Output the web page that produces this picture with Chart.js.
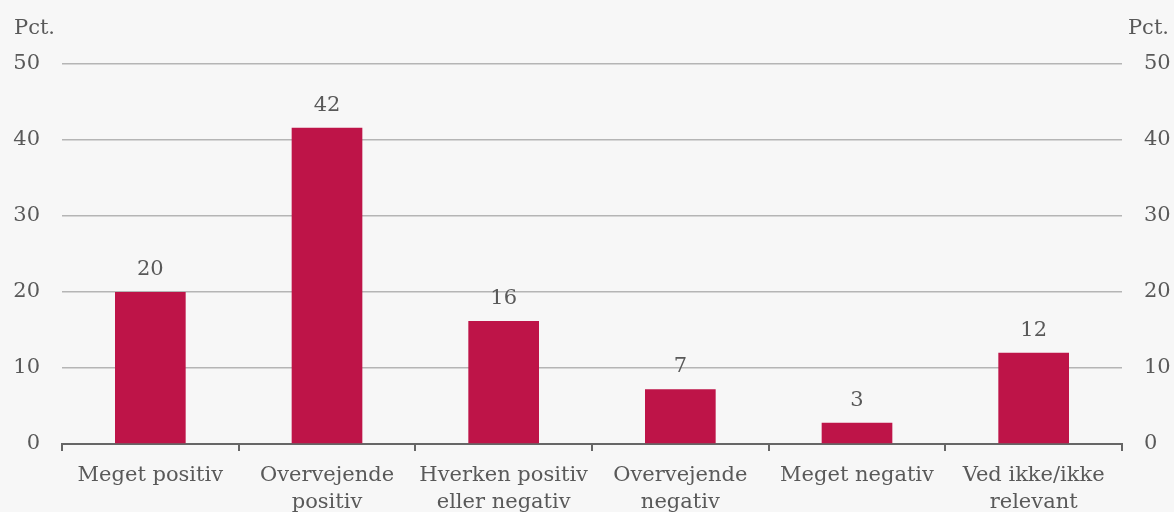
<!DOCTYPE html>
<html>
<head>
<meta charset="utf-8">
<script src="https://cdn.jsdelivr.net/npm/chart.js@4.4.1/dist/chart.umd.min.js"></script>
<style>
html,body{margin:0;padding:0;background:#f7f7f7;overflow:hidden;}
#wrap{width:1174px;height:512px;position:relative;}
</style>
</head>
<body>
<div id="wrap"><canvas id="c" width="1174" height="512"></canvas></div>
<script>
const categories = [
  ["Meget positiv"],
  ["Overvejende", "positiv"],
  ["Hverken positiv", "eller negativ"],
  ["Overvejende", "negativ"],
  ["Meget negativ"],
  ["Ved ikke/ikke", "relevant"]
];
const values = [20, 41.6, 16.2, 7.2, 2.8, 12];
const valueLabels = ["20", "42", "16", "7", "3", "12"];
const yTicks = [0, 10, 20, 30, 40, 50];
const unitLabel = "Pct.";

const FONT = "'DejaVu Serif', serif";
const TXT = "#595959";
const FS = 21;

const overlay = {
  id: 'overlay',
  afterDatasetsDraw(chart) {
    const ctx = chart.ctx;
    ctx.save();
    ctx.font = FS + "px " + FONT;
    ctx.fillStyle = TXT;
    ctx.textAlign = 'center';
    ctx.textBaseline = 'bottom';
    chart.getDatasetMeta(0).data.forEach((bar, i) => {
      ctx.fillText(valueLabels[i], bar.x, bar.y - 12);
    });
    ctx.textBaseline = 'middle';
    ctx.textAlign = 'left';
    ctx.fillText(unitLabel, 14, 29);
    ctx.textAlign = 'right';
    ctx.fillText(unitLabel, 1169, 29);
    ctx.restore();
  }
};

new Chart(document.getElementById('c'), {
  type: 'bar',
  data: {
    labels: categories,
    datasets: [{
      data: values,
      backgroundColor: '#BE1448',
      barPercentage: 0.4,
      categoryPercentage: 1.0
    }]
  },
  options: {
    responsive: false,
    animation: false,
    events: [],
    layout: { padding: { top: 64, left: 0, right: 0, bottom: 0 } },
    plugins: { legend: { display: false }, tooltip: { enabled: false } },
    scales: {
      x: {
        offset: true,
        grid: { offset: true, drawOnChartArea: false, drawTicks: true, tickLength: 7, color: '#666', lineWidth: 2 },
        border: { display: true, color: '#666', width: 2 },
        ticks: { color: TXT, font: { family: FONT, size: FS, lineHeight: 1.3 }, padding: 11, maxRotation: 0, autoSkip: false },
        afterFit(s) { s.height = 68; }
      },
      y: {
        position: 'left',
        min: 0, max: 50,
        afterBuildTicks(s) { s.ticks = yTicks.map(v => ({ value: v })); },
        grid: { color: '#b5b5b5', lineWidth: 1.5, drawTicks: false },
        border: { display: false },
        ticks: { color: TXT, font: { family: FONT, size: FS }, padding: 22 },
        afterFit(s) { s.width = 62; }
      },
      y2: {
        position: 'right',
        min: 0, max: 50,
        afterBuildTicks(s) { s.ticks = yTicks.map(v => ({ value: v })); },
        grid: { display: false, drawTicks: false },
        border: { display: false },
        ticks: { color: TXT, font: { family: FONT, size: FS }, padding: 22 },
        afterFit(s) { s.width = 52; }
      }
    }
  },
  plugins: [overlay]
});
</script>
</body>
</html>
